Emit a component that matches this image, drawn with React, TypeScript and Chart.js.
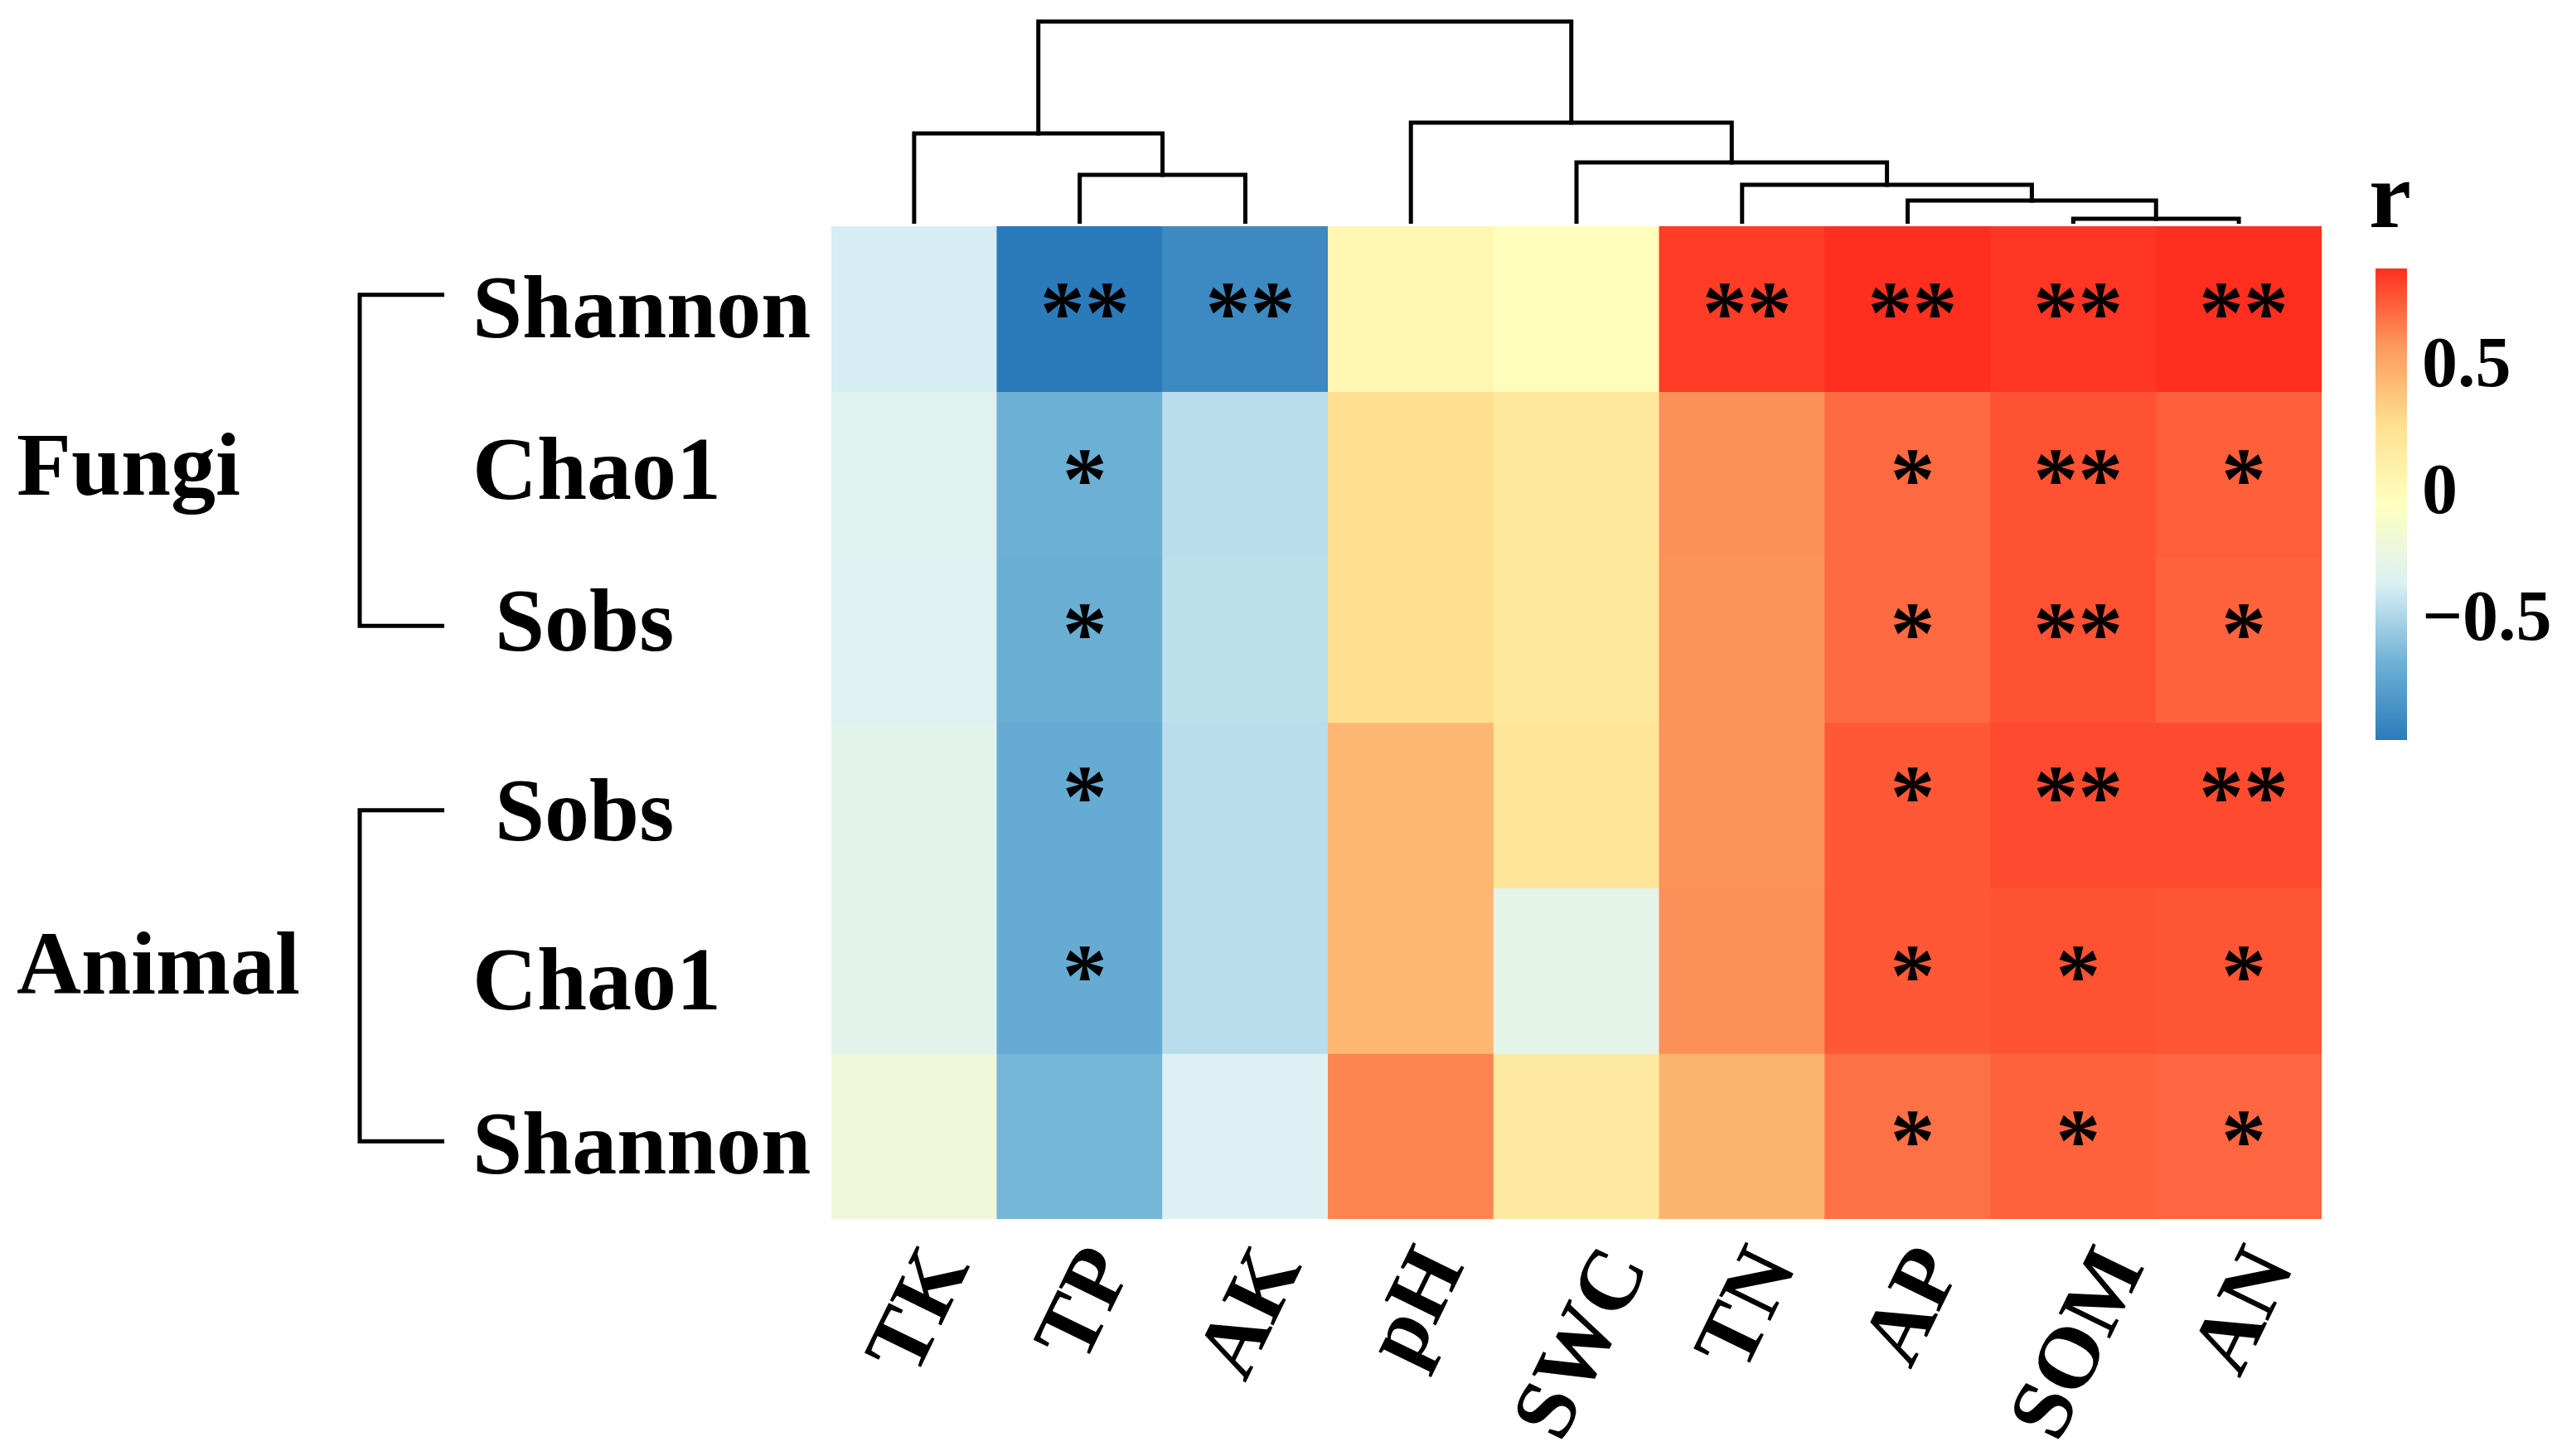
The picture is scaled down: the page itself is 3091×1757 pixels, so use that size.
import React, { useEffect, useRef } from "react";
import { Chart, registerables } from "chart.js";

Chart.register(...registerables);

// ---------- data ----------
const columns = ["TK", "TP", "AK", "pH", "SWC", "TN", "AP", "SOM", "AN"];
const rowLabels = ["Shannon", "Chao1", " Sobs", " Sobs", "Chao1", "Shannon"];
const groupNames = ["Fungi", "Animal"];
const groupRows = [
  [0, 2],
  [3, 5],
];

const fungiShannon = [-0.39, -0.99, -0.91, 0.03, -0.04, 0.83, 0.87, 0.85, 0.87];
const fungiChao1 = [-0.34, -0.69, -0.47, 0.25, 0.17, 0.59, 0.7, 0.77, 0.73];
const fungiSobs = [-0.35, -0.7, -0.46, 0.25, 0.17, 0.58, 0.7, 0.77, 0.72];
const animalSobs = [-0.32, -0.72, -0.47, 0.43, 0.19, 0.58, 0.75, 0.79, 0.79];
const animalChao1 = [-0.32, -0.72, -0.47, 0.43, -0.3, 0.59, 0.75, 0.77, 0.76];
const animalShannon = [-0.21, -0.66, -0.36, 0.62, 0.15, 0.45, 0.68, 0.72, 0.71];

const sigFungiShannon = ["", "**", "**", "", "", "**", "**", "**", "**"];
const sigFungiChao1 = ["", "*", "", "", "", "", "*", "**", "*"];
const sigFungiSobs = ["", "*", "", "", "", "", "*", "**", "*"];
const sigAnimalSobs = ["", "*", "", "", "", "", "*", "**", "**"];
const sigAnimalChao1 = ["", "*", "", "", "", "", "*", "*", "*"];
const sigAnimalShannon = ["", "", "", "", "", "", "*", "*", "*"];

const values = [fungiShannon, fungiChao1, fungiSobs, animalSobs, animalChao1, animalShannon];
const signif = [sigFungiShannon, sigFungiChao1, sigFungiSobs, sigAnimalSobs, sigAnimalChao1, sigAnimalShannon];

// column dendrogram: [childA, childB, height]; leaves 0..8, new nodes 9..
const colMerges: [number, number, number][] = [
  [1, 2, 0.239],
  [0, 9, 0.444],
  [7, 8, 0.021],
  [6, 11, 0.111],
  [5, 12, 0.189],
  [4, 13, 0.3],
  [3, 14, 0.498],
  [10, 15, 1.0],
];

const colorbarTicks = [-0.5, 0, 0.5];
const colorbarTickLabels = ["\u22120.5", "0", "0.5"];
const legendTitle = "r";

const paletteStops = ["#2b7bba", "#6fb2d6", "#dcf1f5", "#ffffbf", "#fee090", "#fc9a5e", "#ff2f1f"];

// ---------- helpers ----------
const allVals = values.flat();
const vMin = Math.min(...allVals);
const vMax = Math.max(...allVals);

function hexToRgb(h: string) {
  const n = parseInt(h.slice(1), 16);
  return [(n >> 16) & 255, (n >> 8) & 255, n & 255];
}
const stopRgb = paletteStops.map(hexToRgb);

function colorFor(v: number) {
  let t = (v - vMin) / (vMax - vMin);
  t = Math.max(0, Math.min(1, t));
  const seg = t * (stopRgb.length - 1);
  const i = Math.min(stopRgb.length - 2, Math.floor(seg));
  const f = seg - i;
  const a = stopRgb[i];
  const b = stopRgb[i + 1];
  const c = a.map((x, k) => Math.round(x + (b[k] - x) * f));
  return `rgb(${c[0]},${c[1]},${c[2]})`;
}

const FONT = '"Liberation Serif", "Times New Roman", serif';
const font = (px: number) => `bold ${px}px ${FONT}`;

// layout nudges (px)
const ROW_LABEL_NUDGE = [-3, -8, -24, 5, 9, 8];
const STAR_NUDGE = [-10, -9, -23, -25, -9, -10];
const BRACKET_NUDGE = [-17, 6];
const GROUP_LABEL_NUDGE = [-12, -9];

const overlayPlugin = {
  id: "overlay",
  afterDatasetsDraw(chart: any) {
    const ctx: CanvasRenderingContext2D = chart.ctx;
    const xs = chart.scales.x;
    const ys = chart.scales.y;
    const area = chart.chartArea;
    ctx.save();
    ctx.fillStyle = "#000";
    ctx.strokeStyle = "#000";

    // significance stars
    ctx.font = font(108);
    ctx.textAlign = "center";
    ctx.textBaseline = "alphabetic";
    signif.forEach((row, i) => {
      row.forEach((s, j) => {
        if (!s) return;
        const m = ctx.measureText(s);
        const cx = xs.getPixelForValue(j) + 6;
        const cy = ys.getPixelForValue(i + 0.5) + STAR_NUDGE[i];
        ctx.fillText(s, cx, cy + (m.actualBoundingBoxAscent - m.actualBoundingBoxDescent) / 2);
      });
    });

    // row labels
    ctx.font = font(108);
    ctx.textAlign = "left";
    rowLabels.forEach((lab, i) => {
      const m = ctx.measureText(lab);
      const cy = ys.getPixelForValue(i + 0.5) + ROW_LABEL_NUDGE[i];
      ctx.fillText(lab, area.left - 433, cy + (m.actualBoundingBoxAscent - m.actualBoundingBoxDescent) / 2);
    });

    // group brackets and labels
    const capH = ctx.measureText("H").actualBoundingBoxAscent;
    ctx.lineWidth = 5;
    ctx.lineJoin = "miter";
    ctx.lineCap = "butt";
    groupRows.forEach(([a, b], g) => {
      const top = ys.getPixelForValue(a + 0.5) + BRACKET_NUDGE[g];
      const bot = ys.getPixelForValue(b + 0.5) + BRACKET_NUDGE[g];
      const xv = area.left - 569;
      const xh = area.left - 467;
      ctx.beginPath();
      ctx.moveTo(xh, top);
      ctx.lineTo(xv, top);
      ctx.lineTo(xv, bot);
      ctx.lineTo(xh, bot);
      ctx.stroke();
      const mid = (ys.getPixelForValue(a + 0.5) + ys.getPixelForValue(b + 0.5)) / 2 + GROUP_LABEL_NUDGE[g];
      ctx.fillText(groupNames[g], 20, mid + capH / 2);
    });

    // column dendrogram
    const leafY = area.top - 4;
    const rootY = 26;
    const nodeX: number[] = columns.map((_, j) => xs.getPixelForValue(j));
    const nodeY: number[] = columns.map(() => leafY);
    ctx.lineWidth = 5;
    ctx.lineCap = "square";
    colMerges.forEach(([a, b, h]) => {
      const y = leafY - h * (leafY - rootY);
      ctx.beginPath();
      ctx.moveTo(nodeX[a], nodeY[a]);
      ctx.lineTo(nodeX[a], y);
      ctx.lineTo(nodeX[b], y);
      ctx.lineTo(nodeX[b], nodeY[b]);
      ctx.stroke();
      nodeX.push((nodeX[a] + nodeX[b]) / 2);
      nodeY.push(y);
    });
    // clean the bottom of leaf lines (butt end at leafY)
    ctx.clearRect(area.left, leafY + 1, area.right - area.left, area.top - leafY - 1);

    // column labels (rotated)
    const theta = (64 * Math.PI) / 180;
    ctx.font = font(105);
    ctx.textAlign = "center";
    const capC = ctx.measureText("H").actualBoundingBoxAscent;
    columns.forEach((lab, j) => {
      const L = ctx.measureText(lab).width;
      const bh = L * Math.sin(theta) + capC * Math.cos(theta);
      const cx = xs.getPixelForValue(j) + 3;
      const cy = area.bottom + 26 + bh / 2;
      ctx.save();
      ctx.translate(cx, cy);
      ctx.rotate(-theta);
      ctx.fillText(lab, 0, capC / 2);
      ctx.restore();
    });

    // colour bar
    const cbL = area.right + 65;
    const cbW = 38;
    const cbT = area.top + 51;
    const cbB = area.top + 620;
    const grad = ctx.createLinearGradient(0, cbB, 0, cbT);
    paletteStops.forEach((c, k) => grad.addColorStop(k / (paletteStops.length - 1), c));
    ctx.fillStyle = grad;
    ctx.fillRect(cbL, cbT, cbW, cbB - cbT);
    ctx.fillStyle = "#000";
    ctx.font = font(86);
    ctx.textAlign = "left";
    const digitH = ctx.measureText("0").actualBoundingBoxAscent;
    colorbarTicks.forEach((t, k) => {
      const y = cbB - ((t - vMin) / (vMax - vMin)) * (cbB - cbT);
      ctx.fillText(colorbarTickLabels[k], cbL + 56, y + digitH / 2);
    });
    ctx.font = font(115);
    ctx.fillText(legendTitle, cbL - 8, cbT - 50);

    ctx.restore();
  },
};

export default function App() {
  const ref = useRef<HTMLCanvasElement | null>(null);
  useEffect(() => {
    if (!ref.current) return;
    document.body.style.overflow = "hidden";
    const chart = new Chart(ref.current, {
      type: "bar",
      data: {
        labels: columns,
        datasets: values.map((row, i) => ({
          label: rowLabels[i],
          data: row.map(() => 1),
          backgroundColor: row.map(colorFor),
          borderWidth: 0,
          barPercentage: 1,
          categoryPercentage: 1,
          stack: "heat",
        })),
      },
      options: {
        responsive: false,
        animation: false,
        devicePixelRatio: 1,
        layout: { padding: { left: 1003, right: 290, top: 273, bottom: 286 } },
        plugins: { legend: { display: false }, tooltip: { enabled: false } },
        scales: {
          x: { display: false, stacked: true, offset: true, grid: { display: false } },
          y: { display: false, stacked: true, min: 0, max: 6, reverse: true, grid: { display: false } },
        },
      },
      plugins: [overlayPlugin],
    });
    return () => chart.destroy();
  }, []);
  return (
    <div style={{ position: "absolute", left: 0, top: 0, width: 3091, height: 1757, background: "#fff" }}>
      <canvas ref={ref} width={3091} height={1757} style={{ display: "block" }} />
    </div>
  );
}
